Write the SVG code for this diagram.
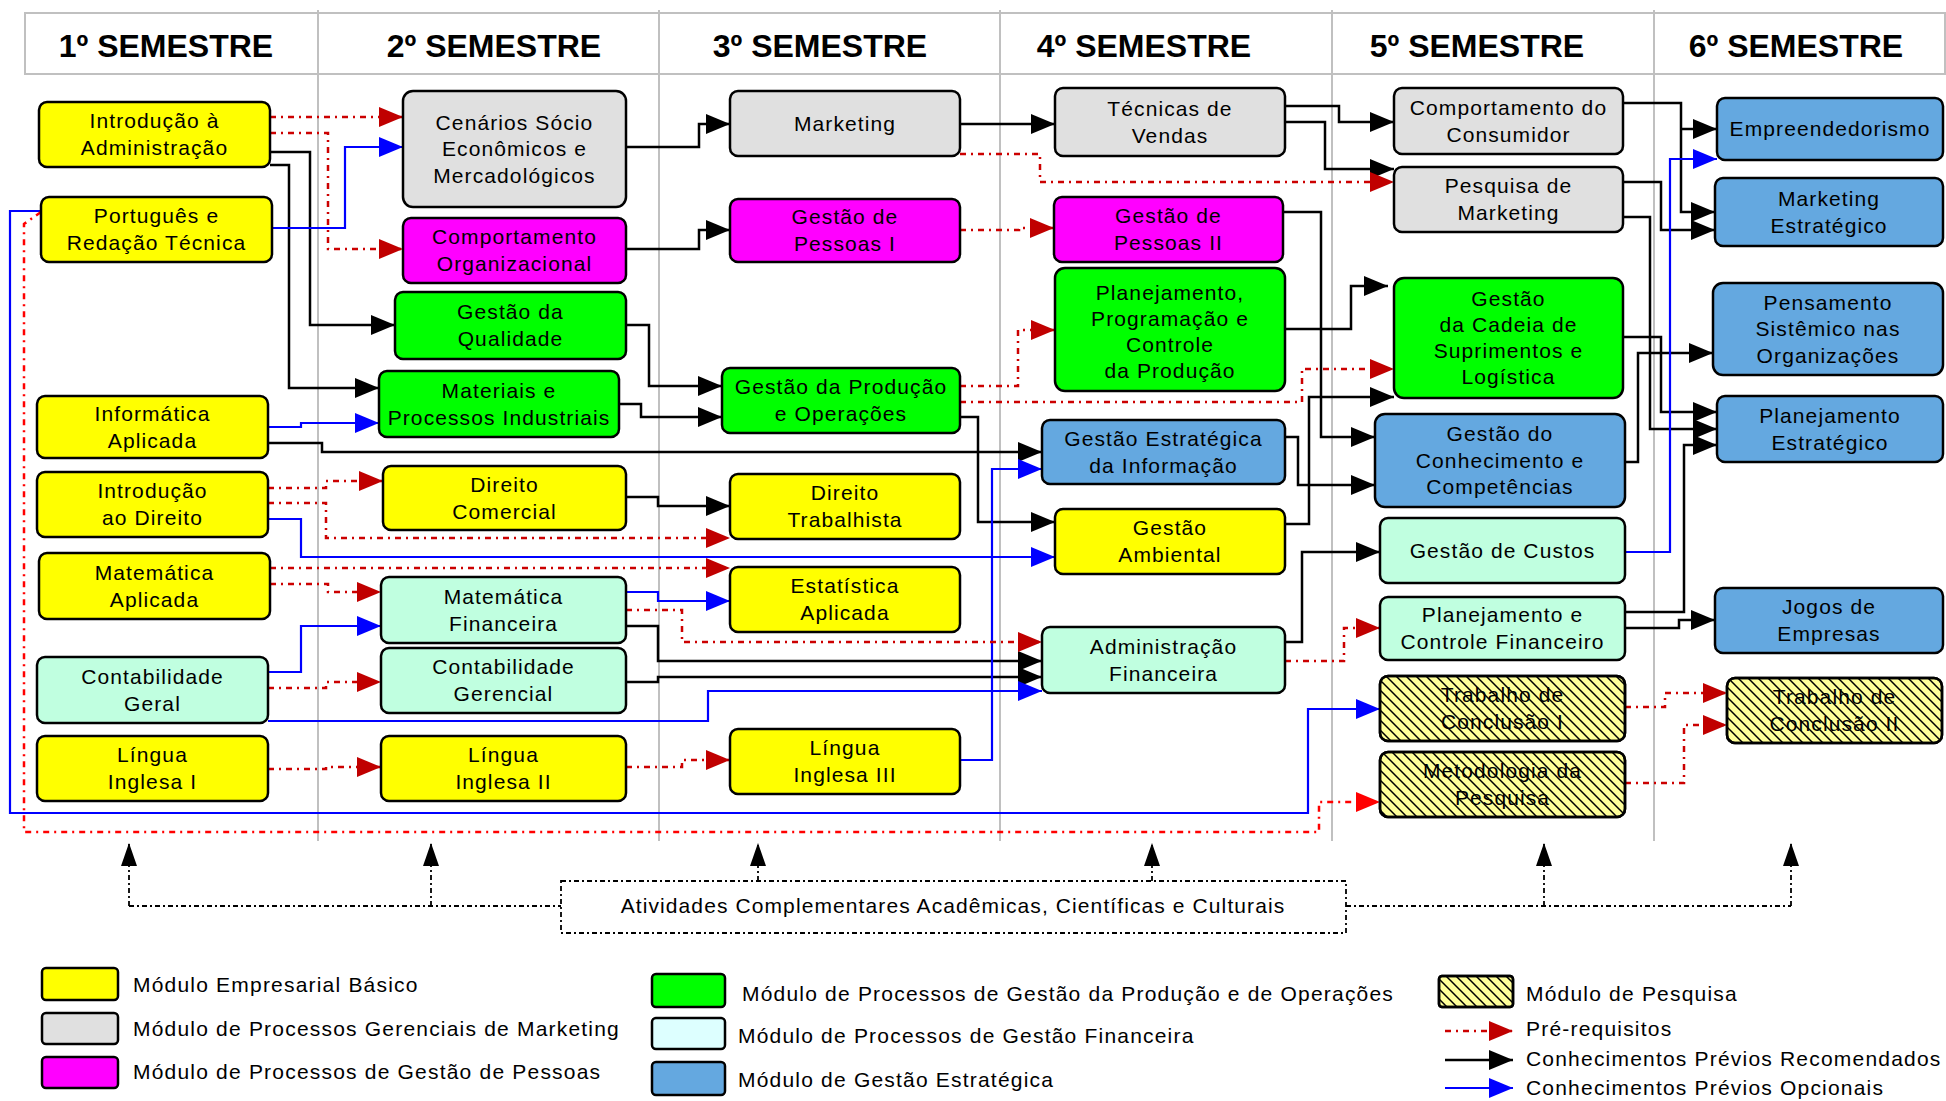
<svg xmlns="http://www.w3.org/2000/svg" width="1946" height="1101" viewBox="0 0 1946 1101">
<style>
.hd{font-family:"Liberation Sans",Arial,sans-serif;font-weight:bold;font-size:32px;text-anchor:middle;fill:#000}
.t{font-family:"Liberation Sans",Arial,sans-serif;font-size:21px;letter-spacing:1.1px;text-anchor:middle;fill:#000}
.lt{font-family:"Liberation Sans",Arial,sans-serif;font-size:21px;letter-spacing:1.2px;fill:#000}
.n{stroke:#000;stroke-width:2.5}
.y{fill:#FFFF00}.g{fill:#E0E0E0}.m{fill:#FF00FF}.gr{fill:#00FF00}.f{fill:#C0FFE0}.b{fill:#64A8E0}.hb{fill:#FFFF99}
.hh{fill:url(#hatch);stroke:#000;stroke-width:2.5}
.k{fill:none;stroke:#000;stroke-width:2.5;marker-end:url(#ak)}
.bl{fill:none;stroke:#0000FF;stroke-width:2.2;marker-end:url(#ab)}
.r{fill:none;stroke:#CC0000;stroke-width:2.5;stroke-dasharray:6 5 2 5;marker-end:url(#ar)}
.r2{fill:none;stroke:#FF0000;stroke-width:2.5;stroke-dasharray:6 5 2 5;marker-end:url(#ar2)}
.ac{fill:none;stroke:#000;stroke-width:1.8;stroke-dasharray:5 3 2 3}
.aca{fill:none;stroke:#000;stroke-width:1.8;stroke-dasharray:5 3 2 3;marker-end:url(#aa)}
.col{stroke:#C0C0C0;stroke-width:2}
</style>
<defs>
<marker id="ak" markerUnits="userSpaceOnUse" markerWidth="24" markerHeight="20" refX="24" refY="10" orient="auto"><path d="M0,0 L24,10 L0,20 z" fill="#000"/></marker>
<marker id="ab" markerUnits="userSpaceOnUse" markerWidth="24" markerHeight="20" refX="24" refY="10" orient="auto"><path d="M0,0 L24,10 L0,20 z" fill="#0000FF"/></marker>
<marker id="ar" markerUnits="userSpaceOnUse" markerWidth="24" markerHeight="20" refX="24" refY="10" orient="auto"><path d="M0,0 L24,10 L0,20 z" fill="#C00000"/></marker>
<marker id="ar2" markerUnits="userSpaceOnUse" markerWidth="24" markerHeight="20" refX="24" refY="10" orient="auto"><path d="M0,0 L24,10 L0,20 z" fill="#FF0000"/></marker>
<marker id="aa" markerUnits="userSpaceOnUse" markerWidth="23" markerHeight="16" refX="23" refY="8" orient="auto"><path d="M0,0 L23,8 L0,16 z" fill="#000"/></marker>
<pattern id="hatch" patternUnits="userSpaceOnUse" width="10" height="10"><path d="M0,0 L10,10 M-5,5 L5,15 M5,-5 L15,5" stroke="#000" stroke-width="1.5"/></pattern>
</defs>
<rect width="1946" height="1101" fill="#FFFFFF"/>

<g id="grid">
<rect x="25" y="13" width="1920" height="61" fill="none" stroke="#C0C0C0" stroke-width="2"/>
<line class="col" x1="318" y1="10" x2="318" y2="841"/>
<line class="col" x1="659" y1="10" x2="659" y2="841"/>
<line class="col" x1="1000" y1="10" x2="1000" y2="841"/>
<line class="col" x1="1332" y1="10" x2="1332" y2="841"/>
<line class="col" x1="1654" y1="10" x2="1654" y2="841"/>
<text class="hd" x="166" y="57">1º SEMESTRE</text>
<text class="hd" x="494" y="57">2º SEMESTRE</text>
<text class="hd" x="820" y="57">3º SEMESTRE</text>
<text class="hd" x="1144" y="57">4º SEMESTRE</text>
<text class="hd" x="1477" y="57">5º SEMESTRE</text>
<text class="hd" x="1796" y="57">6º SEMESTRE</text>
</g>

<g id="connectors">
<path class="k" d="M270,152 H310 V325 H395"/>
<path class="k" d="M270,165 H289 V388 H379"/>
<path class="k" d="M268,443 H322 V452 H1042"/>
<path class="k" d="M626,147 H699 V124 H730"/>
<path class="k" d="M626,249 H699 V230 H730"/>
<path class="k" d="M626,325 H649 V386 H722"/>
<path class="k" d="M619,404 H641 V417 H722"/>
<path class="k" d="M626,497 H658 V506 H730"/>
<path class="k" d="M626,626 H658 V661 H1042"/>
<path class="k" d="M626,682 H658 V677 H1042"/>
<path class="k" d="M960,124 H1055"/>
<path class="k" d="M960,417 H978 V522 H1055"/>
<path class="k" d="M1285,106 H1339 V122 H1394"/>
<path class="k" d="M1285,122 H1325 V169 H1394"/>
<path class="k" d="M1283,212 H1321 V437 H1375"/>
<path class="k" d="M1285,329 H1351 V286 H1388"/>
<path class="k" d="M1285,524 H1309 V397 H1394"/>
<path class="k" d="M1285,437 H1298 V485 H1375"/>
<path class="k" d="M1285,642 H1302 V552 H1380"/>
<path class="k" d="M1623,103 H1681 V212 H1715"/>
<path class="k" d="M1681,129 H1717"/>
<path class="k" d="M1623,182 H1661 V230 H1715"/>
<path class="k" d="M1623,217 H1650 V429 H1717"/>
<path class="k" d="M1623,337 H1661 V412 H1717"/>
<path class="k" d="M1625,462 H1638 V353 H1713"/>
<path class="k" d="M1625,612 H1684 V445 H1717"/>
<path class="k" d="M1625,628 H1679 V620 H1715"/>

<path class="bl" d="M272,228 H345 V147 H403"/>
<path class="bl" d="M268,427 H301 V423 H379"/>
<path class="bl" d="M268,519 H301 V557 H1055"/>
<path class="bl" d="M268,672 H301 V626 H381"/>
<path class="bl" d="M268,721 H708 V691 H1042"/>
<path class="bl" d="M626,592 H658 V601 H730"/>
<path class="bl" d="M960,760 H992 V469 H1042"/>
<path class="bl" d="M1625,552 H1670 V159 H1717"/>
<path class="bl" d="M41,211 H10 V813 H1308 V709 H1380"/>

<path class="r" d="M270,117 H403"/>
<path class="r" d="M270,133 H328 V249 H403"/>
<path class="r" d="M268,488 H326 V481 H383"/>
<path class="r" d="M268,503 H326 V538 H730"/>
<path class="r" d="M270,568 H730"/>
<path class="r" d="M270,584 H328 V592 H381"/>
<path class="r" d="M268,688 H326 V682 H381"/>
<path class="r" d="M268,769 H326 V767 H381"/>
<path class="r" d="M626,767 H682 V760 H730"/>
<path class="r" d="M626,610 H682 V642 H1042"/>
<path class="r" d="M960,154 H1040 V182 H1394"/>
<path class="r" d="M960,230 H1019 V228 H1054"/>
<path class="r" d="M960,386 H1018 V330 H1055"/>
<path class="r" d="M960,402 H1302 V369 H1394"/>
<path class="r" d="M1285,661 H1344 V628 H1380"/>
<path class="r" d="M1625,707 H1665 V693 H1727"/>
<path class="r" d="M1625,783 H1684 V725 H1727"/>
<path class="r2" d="M41,212 L24,224 V832 H1319 V802 H1380"/>
</g>

<g id="n-ia"><rect class="n y" x="39" y="102" width="231" height="65" rx="8"/><text class="t" x="154.5" y="128">Introdução à<tspan x="154.5" dy="27">Administração</tspan></text></g>
<g id="n-prt"><rect class="n y" x="41" y="197" width="231" height="65" rx="8"/><text class="t" x="156.5" y="223">Português e<tspan x="156.5" dy="27">Redação Técnica</tspan></text></g>
<g id="n-inf"><rect class="n y" x="37" y="396" width="231" height="62" rx="8"/><text class="t" x="152.5" y="420.5">Informática<tspan x="152.5" dy="27">Aplicada</tspan></text></g>
<g id="n-id"><rect class="n y" x="37" y="472" width="231" height="65" rx="8"/><text class="t" x="152.5" y="498">Introdução<tspan x="152.5" dy="27">ao Direito</tspan></text></g>
<g id="n-ma"><rect class="n y" x="39" y="553" width="231" height="66" rx="8"/><text class="t" x="154.5" y="579.5">Matemática<tspan x="154.5" dy="27">Aplicada</tspan></text></g>
<g id="n-cg"><rect class="n f" x="37" y="657" width="231" height="66" rx="8"/><text class="t" x="152.5" y="683.5">Contabilidade<tspan x="152.5" dy="27">Geral</tspan></text></g>
<g id="n-li1"><rect class="n y" x="37" y="736" width="231" height="65" rx="8"/><text class="t" x="152.5" y="762">Língua<tspan x="152.5" dy="27">Inglesa I</tspan></text></g>

<g id="n-cen"><rect class="n g" x="403" y="91" width="223" height="116" rx="10"/><text class="t" x="514.5" y="129.5">Cenários Sócio<tspan x="514.5" dy="26.5">Econômicos e</tspan><tspan x="514.5" dy="26.5">Mercadológicos</tspan></text></g>
<g id="n-co"><rect class="n m" x="403" y="218" width="223" height="65" rx="8"/><text class="t" x="514.5" y="244">Comportamento<tspan x="514.5" dy="27">Organizacional</tspan></text></g>
<g id="n-gq"><rect class="n gr" x="395" y="292" width="231" height="67" rx="8"/><text class="t" x="510.5" y="319">Gestão da<tspan x="510.5" dy="27">Qualidade</tspan></text></g>
<g id="n-mpi"><rect class="n gr" x="379" y="371" width="240" height="66" rx="8"/><text class="t" x="499" y="397.5">Materiais e<tspan x="499" dy="27">Processos Industriais</tspan></text></g>
<g id="n-dc"><rect class="n y" x="383" y="466" width="243" height="64" rx="8"/><text class="t" x="504.5" y="491.5">Direito<tspan x="504.5" dy="27">Comercial</tspan></text></g>
<g id="n-mf"><rect class="n f" x="381" y="577" width="245" height="66" rx="8"/><text class="t" x="503.5" y="603.5">Matemática<tspan x="503.5" dy="27">Financeira</tspan></text></g>
<g id="n-cger"><rect class="n f" x="381" y="648" width="245" height="65" rx="8"/><text class="t" x="503.5" y="674">Contabilidade<tspan x="503.5" dy="27">Gerencial</tspan></text></g>
<g id="n-li2"><rect class="n y" x="381" y="736" width="245" height="65" rx="8"/><text class="t" x="503.5" y="762">Língua<tspan x="503.5" dy="27">Inglesa II</tspan></text></g>

<g id="n-mkt"><rect class="n g" x="730" y="91" width="230" height="65" rx="8"/><text class="t" x="845" y="130.5">Marketing</text></g>
<g id="n-gp1"><rect class="n m" x="730" y="199" width="230" height="63" rx="8"/><text class="t" x="845" y="224">Gestão de<tspan x="845" dy="27">Pessoas I</tspan></text></g>
<g id="n-gpo"><rect class="n gr" x="722" y="368" width="238" height="65" rx="8"/><text class="t" x="841" y="394">Gestão da Produção<tspan x="841" dy="27">e Operações</tspan></text></g>
<g id="n-dt"><rect class="n y" x="730" y="474" width="230" height="65" rx="8"/><text class="t" x="845" y="500">Direito<tspan x="845" dy="27">Trabalhista</tspan></text></g>
<g id="n-ea"><rect class="n y" x="730" y="567" width="230" height="65" rx="8"/><text class="t" x="845" y="593">Estatística<tspan x="845" dy="27">Aplicada</tspan></text></g>
<g id="n-li3"><rect class="n y" x="730" y="729" width="230" height="65" rx="8"/><text class="t" x="845" y="755">Língua<tspan x="845" dy="27">Inglesa III</tspan></text></g>

<g id="n-tv"><rect class="n g" x="1055" y="88" width="230" height="68" rx="8"/><text class="t" x="1170" y="115.5">Técnicas de<tspan x="1170" dy="27">Vendas</tspan></text></g>
<g id="n-gp2"><rect class="n m" x="1054" y="197" width="229" height="65" rx="8"/><text class="t" x="1168.5" y="223">Gestão de<tspan x="1168.5" dy="27">Pessoas II</tspan></text></g>
<g id="n-ppc"><rect class="n gr" x="1055" y="268" width="230" height="123" rx="10"/><text class="t" x="1170" y="299.5">Planejamento,<tspan x="1170" dy="26">Programação e</tspan><tspan x="1170" dy="26">Controle</tspan><tspan x="1170" dy="26">da Produção</tspan></text></g>
<g id="n-gei"><rect class="n b" x="1042" y="420" width="243" height="64" rx="8"/><text class="t" x="1163.5" y="445.5">Gestão Estratégica<tspan x="1163.5" dy="27">da Informação</tspan></text></g>
<g id="n-ga"><rect class="n y" x="1055" y="509" width="230" height="65" rx="8"/><text class="t" x="1170" y="535">Gestão<tspan x="1170" dy="27">Ambiental</tspan></text></g>
<g id="n-af"><rect class="n f" x="1042" y="627" width="243" height="66" rx="8"/><text class="t" x="1163.5" y="653.5">Administração<tspan x="1163.5" dy="27">Financeira</tspan></text></g>

<g id="n-cc"><rect class="n g" x="1394" y="88" width="229" height="66" rx="8"/><text class="t" x="1508.5" y="114.5">Comportamento do<tspan x="1508.5" dy="27">Consumidor</tspan></text></g>
<g id="n-pm"><rect class="n g" x="1394" y="167" width="229" height="65" rx="8"/><text class="t" x="1508.5" y="193">Pesquisa de<tspan x="1508.5" dy="27">Marketing</tspan></text></g>
<g id="n-cad"><rect class="n gr" x="1394" y="278" width="229" height="120" rx="10"/><text class="t" x="1508.5" y="306">Gestão<tspan x="1508.5" dy="26">da Cadeia de</tspan><tspan x="1508.5" dy="26">Suprimentos e</tspan><tspan x="1508.5" dy="26">Logística</tspan></text></g>
<g id="n-gdc"><rect class="n b" x="1375" y="414" width="250" height="93" rx="10"/><text class="t" x="1500" y="441">Gestão do<tspan x="1500" dy="26.5">Conhecimento e</tspan><tspan x="1500" dy="26.5">Competências</tspan></text></g>
<g id="n-gc"><rect class="n f" x="1380" y="518" width="245" height="65" rx="8"/><text class="t" x="1502.5" y="557.5">Gestão de Custos</text></g>
<g id="n-pcf"><rect class="n f" x="1380" y="597" width="245" height="63" rx="8"/><text class="t" x="1502.5" y="622">Planejamento e<tspan x="1502.5" dy="27">Controle Financeiro</tspan></text></g>
<g id="n-tc1"><rect class="n hb" x="1380" y="676" width="245" height="65" rx="8"/><text class="t" x="1502.5" y="702">Trabalho de<tspan x="1502.5" dy="27">Conclusão I</tspan></text><rect class="hh" x="1380" y="676" width="245" height="65" rx="8"/></g>
<g id="n-met"><rect class="n hb" x="1380" y="752" width="245" height="65" rx="8"/><text class="t" x="1502.5" y="778">Metodologia da<tspan x="1502.5" dy="27">Pesquisa</tspan></text><rect class="hh" x="1380" y="752" width="245" height="65" rx="8"/></g>

<g id="n-emp"><rect class="n b" x="1717" y="98" width="226" height="62" rx="8"/><text class="t" x="1830" y="136">Empreendedorismo</text></g>
<g id="n-me"><rect class="n b" x="1715" y="178" width="228" height="68" rx="8"/><text class="t" x="1829" y="205.5">Marketing<tspan x="1829" dy="27">Estratégico</tspan></text></g>
<g id="n-pso"><rect class="n b" x="1713" y="283" width="230" height="92" rx="10"/><text class="t" x="1828" y="309.5">Pensamento<tspan x="1828" dy="26.5">Sistêmico nas</tspan><tspan x="1828" dy="26.5">Organizações</tspan></text></g>
<g id="n-pe"><rect class="n b" x="1717" y="396" width="226" height="66" rx="8"/><text class="t" x="1830" y="422.5">Planejamento<tspan x="1830" dy="27">Estratégico</tspan></text></g>
<g id="n-je"><rect class="n b" x="1715" y="588" width="228" height="65" rx="8"/><text class="t" x="1829" y="614">Jogos de<tspan x="1829" dy="27">Empresas</tspan></text></g>
<g id="n-tc2"><rect class="n hb" x="1727" y="678" width="215" height="65" rx="8"/><text class="t" x="1834.5" y="704">Trabalho de<tspan x="1834.5" dy="27">Conclusão II</tspan></text><rect class="hh" x="1727" y="678" width="215" height="65" rx="8"/></g>

<g id="n-acc">
<rect class="ac" x="561" y="881" width="785" height="52"/>
<text class="t" x="953" y="913">Atividades Complementares Acadêmicas, Científicas e Culturais</text>
<path class="ac" d="M129,906 H561"/>
<path class="ac" d="M1346,906 H1791"/>
<path class="aca" d="M129,906 V843"/>
<path class="aca" d="M431,906 V843"/>
<path class="aca" d="M758,881 V843"/>
<path class="aca" d="M1152,881 V843"/>
<path class="aca" d="M1544,906 V843"/>
<path class="aca" d="M1791,906 V843"/>
</g>

<g id="legend">
<rect class="n y" x="42" y="968" width="76" height="32" rx="4" stroke-width="2"/>
<text class="lt" x="133" y="992">Módulo Empresarial Básico</text>
<rect class="n g" x="42" y="1013" width="76" height="31" rx="4" stroke-width="2"/>
<text class="lt" x="133" y="1036">Módulo de Processos Gerenciais de Marketing</text>
<rect class="n m" x="42" y="1057" width="76" height="31" rx="4" stroke-width="2"/>
<text class="lt" x="133" y="1079">Módulo de Processos de Gestão de Pessoas</text>
<rect class="n gr" x="652" y="974" width="73" height="33" rx="4" stroke-width="2"/>
<text class="lt" x="742" y="1001">Módulo de Processos de Gestão da Produção e de Operações</text>
<rect class="n" fill="#DDFFFF" x="652" y="1018" width="73" height="31" rx="4" stroke-width="2"/>
<text class="lt" x="738" y="1043">Módulo de Processos de Gestão Financeira</text>
<rect class="n b" x="652" y="1062" width="73" height="33" rx="4" stroke-width="2"/>
<text class="lt" x="738" y="1087">Módulo de Gestão Estratégica</text>
<rect class="n hb" x="1439" y="976" width="74" height="31" rx="3" stroke-width="2"/>
<rect class="hh" x="1439" y="976" width="74" height="31" rx="3" stroke-width="2"/>
<text class="lt" x="1526" y="1001">Módulo de Pesquisa</text>
<path class="r" d="M1445,1031 H1513"/>
<text class="lt" x="1526" y="1036">Pré-requisitos</text>
<path class="k" d="M1445,1060 H1513"/>
<text class="lt" x="1526" y="1066">Conhecimentos Prévios Recomendados</text>
<path class="bl" d="M1445,1088 H1513"/>
<text class="lt" x="1526" y="1095">Conhecimentos Prévios Opcionais</text>
</g>
</svg>
